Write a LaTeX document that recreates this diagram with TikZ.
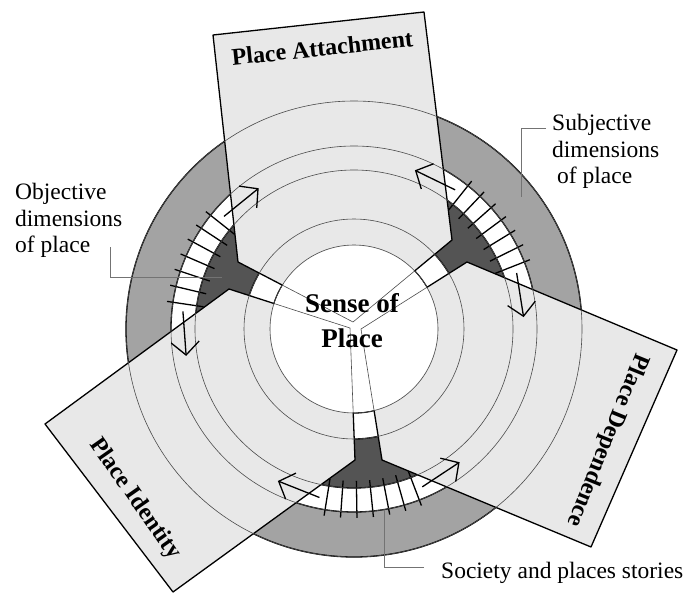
\documentclass[tikz,border=0pt]{standalone}
\usepackage{fontspec}
\setmainfont{Liberation Serif}
\usetikzlibrary{arrows.meta}
\definecolor{gris}{gray}{0.64}
\definecolor{grisfonce}{gray}{0.33}
\definecolor{grisclair}{gray}{0.91}

\begin{document}
\begin{tikzpicture}[x=1pt,y=-1pt]
\tikzset{panneau/.style={fill=grisclair, draw=black, line width=1.3pt, line join=round},
  cercle/.style={draw=black!70, line width=0.6pt},
  repere/.style={draw=black!55, line width=0.9pt},
  fleche/.style={draw=black, line width=1.3pt, -{Straight Barb[length=13pt,width=28pt]}},
  barre/.style={draw=black, line width=1.3pt},
  etiq/.style={font=\fontsize{23.5}{26.5}\selectfont, inner sep=0pt, align=left},
  titre/.style={font=\fontsize{24}{28}\selectfont\bfseries, inner sep=0pt}}
\useasboundingbox (0,0) rectangle (688,594);
\coordinate (O) at (354,329);
\coordinate (A0) at (353,322); \coordinate (A1) at (452,240); \coordinate (A2) at (424,12);
\coordinate (A3) at (213,35); \coordinate (A4) at (238,262);
\coordinate (D0) at (361,329); \coordinate (D1) at (467,262); \coordinate (D2) at (677,350);
\coordinate (D3) at (591,547); \coordinate (D4) at (382,460);
\coordinate (I0) at (350,328); \coordinate (I1) at (229,289); \coordinate (I2) at (45,424);
\coordinate (I3) at (173,592); \coordinate (I4) at (355,460);
\begin{scope}[shift={(O)}, yscale=-1]
\fill[gris] (0,0) circle (228);
\fill[white] (0,0) circle (183);
\fill[grisfonce] (0,0) circle (159);
\fill[white] (0,0) circle (110);
\foreach \r in {228,183,159,110,84} \draw[line width=1.3pt] (0,0) circle (\r);
\foreach \m in {156.6,36.5,275.9} \foreach \k in {-3,...,3} \draw[barre] (\m+5*\k:152) -- (\m+5*\k:189);
\end{scope}
\path[panneau] (A0) -- (A1) -- (A2) -- (A3) -- (A4) -- cycle;
\path[panneau] (D0) -- (D1) -- (D2) -- (D3) -- (D4) -- cycle;
\path[panneau] (I0) -- (I1) -- (I2) -- (I3) -- (I4) -- cycle;
\fill[white] (O) circle (83.3);
\foreach \r in {84,110,159,183,228} \draw[cercle] (O) circle (\r);
\begin{scope}
\clip (O) circle (84);
\draw[cercle] (A4) -- (A0) -- (A1) (D1) -- (D0) -- (D4) (I1) -- (I0) -- (I4);
\end{scope}
\begin{scope}[shift={(O)}, yscale=-1]
\foreach \m in {156.6,36.5,275.9} {
  \draw[fleche] (\m-17.5:172) -- (\m-32.5:170);
  \draw[fleche] (\m+17.5:172) -- (\m+32.5:170);
}
\end{scope}
\node[font=\fontsize{27}{35}\selectfont\bfseries, align=center, inner sep=0pt] (sens) at (352,321) {Sense of\\Place};
\node[titre, anchor=base, rotate=6] (attach) at (323,56) {Place Attachment};
\node[titre, rotate=-112] (depend) at (607,440) {Place Dependence};
\node[titre, rotate=-55] (ident) at (135,499) {Place Identity};
\node[etiq, anchor=north west] (obj) at (15,183) {Objective\\dimensions\\of place};
\node[etiq, anchor=north west] (subj) at (552,114) {Subjective\\dimensions\\\hspace*{5pt}of place};
\node[etiq, anchor=base west] (soc) at (441,578) {Society and places stories};
\coordinate (objdep) at (110,247); \coordinate (objbout) at (222,277);
\coordinate (subjdep) at (546,128); \coordinate (subjbout) at (521,197);
\coordinate (socbout) at (384,510);
\draw[repere] (objdep) |- (objbout);
\draw[repere] (subjdep) -| (subjbout);
\draw[repere] ([xshift=-17pt,yshift=5pt]soc.west) -| (socbout);
\end{tikzpicture}
\end{document}
